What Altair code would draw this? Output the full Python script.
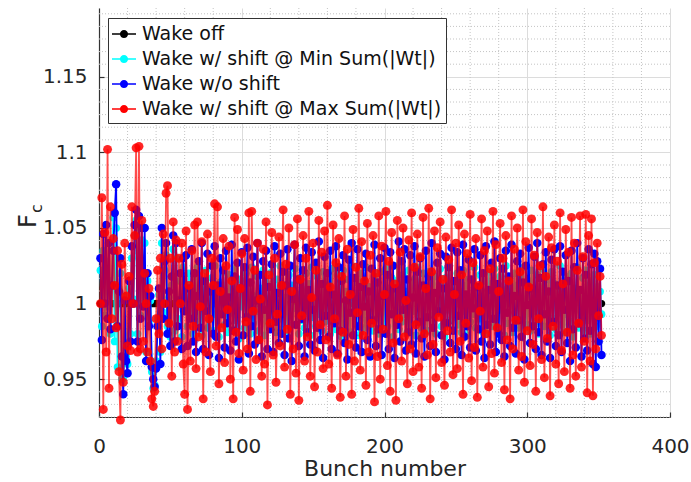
import altair as alt
import pandas as pd

# ---- series definitions -------------------------------------------------
series_names = [
    "Wake off",
    "Wake w/ shift @ Min Sum(|Wt|)",
    "Wake w/o shift",
    "Wake w/ shift @ Max Sum(|Wt|)",
]
series_colors = ["#000000", "#00ffff", "#0000ff", "#ff0000"]

# Fc per bunch, wake with shift at max Sum(|Wt|)
fc_max_shift = [
    1.000, 1.070, 0.930, 1.047, 0.968, 1.102, 0.944, 1.064, 0.990, 1.043,
    1.012, 0.984, 1.035, 0.955, 0.923, 1.026, 0.948, 1.040, 1.005, 0.972,
    1.018, 0.969, 1.064, 1.000, 1.045, 1.103, 0.968, 1.104, 0.970, 1.055,
    0.975, 1.020, 1.000, 0.968, 1.010, 0.962, 0.937, 0.932, 0.942, 0.990,
    1.022, 0.980, 1.030, 0.970, 1.046, 1.000, 1.073, 1.078, 0.987, 1.030,
    0.952, 1.054, 0.968, 1.042, 0.975, 1.030, 1.000, 1.040, 0.960, 0.940,
    1.048, 0.930, 1.012, 0.962, 1.035, 0.985, 1.052, 0.957, 1.054, 0.978,
    0.998, 1.041, 0.937, 1.020, 0.968, 1.046, 0.990, 0.955, 1.030, 1.012,
    1.066, 0.972, 1.064, 0.947, 1.008, 0.984, 1.043, 0.961, 1.025, 0.996,
    1.038, 0.950, 1.015, 0.937, 1.057, 0.981, 1.049, 0.967, 1.010, 1.033,
    0.956, 1.043, 0.988, 0.970, 1.060, 0.942, 1.061, 0.995, 1.022, 0.963,
    1.040, 0.976, 1.003, 0.952, 1.036, 0.960, 1.054, 0.933, 1.019, 0.987,
    1.047, 0.966, 1.030, 0.948, 0.993, 1.044, 0.972, 1.012, 1.062, 0.958,
    1.026, 0.983, 1.050, 0.940, 1.008, 0.970, 1.039, 0.954, 1.056, 0.936,
    1.016, 0.992, 1.045, 0.962, 1.030, 0.978, 1.061, 0.952, 1.004, 1.040,
    0.945, 1.022, 0.968, 1.055, 0.986, 1.034, 0.957, 1.048, 0.976, 1.065,
    0.960, 1.011, 0.944, 1.052, 0.990, 1.027, 0.966, 1.043, 0.938, 1.018,
    0.981, 1.058, 0.952, 1.036, 0.973, 1.006, 0.940, 1.049, 0.962, 1.024,
    0.994, 1.063, 0.956, 1.041, 0.979, 1.015, 0.946, 1.053, 0.968, 1.032,
    0.987, 1.045, 0.935, 1.020, 0.965, 1.058, 0.950, 1.038, 0.983, 1.006,
    1.061, 0.959, 1.028, 0.942, 1.047, 0.974, 1.013, 0.936, 1.055, 0.990,
    1.034, 0.962, 1.050, 0.978, 1.002, 0.947, 1.042, 0.970, 1.060, 0.955,
    1.024, 0.986, 1.046, 0.958, 1.031, 0.944, 1.057, 0.980, 1.010, 0.966,
    1.063, 0.937, 1.021, 0.973, 1.048, 0.951, 1.037, 0.991, 1.054, 0.961,
    1.016, 0.946, 1.044, 0.982, 1.029, 0.968, 1.062, 0.953, 1.006, 1.040,
    0.957, 1.052, 0.975, 1.019, 0.940, 1.046, 0.987, 1.033, 0.964, 1.059,
    0.949, 1.027, 0.971, 1.043, 0.938, 1.012, 0.995, 1.056, 0.958, 1.035,
    0.980, 1.048, 0.945, 1.023, 0.967, 1.061, 0.954, 1.039, 0.984, 1.008,
    1.053, 0.961, 1.030, 0.943, 1.045, 0.976, 1.015, 0.937, 1.058, 0.970,
    1.036, 0.989, 1.050, 0.956, 1.021, 0.965, 1.062, 0.948, 1.041, 0.982,
    1.011, 0.959, 1.056, 0.973, 1.032, 0.942, 1.047, 0.990, 1.025, 0.963,
    1.064, 0.951, 1.018, 0.977, 1.044, 0.939, 1.037, 0.985, 1.052, 0.960,
    1.028, 0.947, 1.060, 0.969, 1.013, 0.955, 1.049, 0.981, 1.034, 0.944,
    1.057, 0.966, 1.040, 0.952, 1.022, 0.987, 1.058, 0.958, 1.031, 0.975,
    1.059, 0.941, 1.045, 0.962, 1.056, 0.939, 1.027, 0.970, 1.040, 0.992,
    1.018, 0.979,
]

# Fc per bunch, wake without shift
fc_no_shift = [
    1.030, 0.976, 1.046, 1.000, 1.052, 0.990, 1.040, 0.983, 1.012, 1.035,
    1.060, 1.079, 0.985, 1.008, 1.030, 0.965, 0.940, 1.002, 0.962, 0.954,
    1.015, 0.975, 1.038, 1.000, 1.052, 1.062, 0.975, 1.058, 0.990, 1.050,
    0.998, 1.050, 0.962, 1.020, 0.985, 1.005, 0.958, 0.950, 0.945, 0.957,
    0.985, 1.010, 0.960, 1.050, 0.990, 1.028, 1.040, 0.980, 1.008, 0.972,
    1.018, 1.045, 0.975, 1.040, 0.985, 1.002, 1.020, 0.970, 1.030, 0.995,
    1.032, 0.972, 1.010, 0.990, 1.036, 0.975, 1.020, 0.968, 1.005, 1.028,
    0.984, 1.040, 0.970, 1.015, 0.995, 1.033, 0.966, 1.008, 1.025, 0.980,
    1.038, 0.978, 1.012, 0.964, 1.030, 0.993, 1.022, 0.971, 1.035, 0.987,
    1.004, 0.969, 1.039, 0.982, 1.018, 0.975, 1.027, 0.963, 1.010, 1.034,
    0.979, 1.024, 0.991, 1.037, 0.967, 1.014, 0.985, 1.031, 0.973, 1.002,
    1.040, 0.976, 1.019, 0.965, 1.028, 0.996, 1.035, 0.970, 1.011, 0.983,
    1.026, 0.968, 1.038, 0.988, 1.007, 0.974, 1.033, 0.980, 1.021, 0.966,
    1.012, 1.036, 0.977, 1.025, 0.962, 1.003, 1.039, 0.986, 1.016, 0.972,
    1.030, 0.990, 1.022, 0.965, 1.037, 0.981, 1.009, 0.973, 1.034, 0.996,
    0.969, 1.027, 0.984, 1.041, 0.976, 1.013, 0.964, 1.031, 0.992, 1.020,
    0.978, 1.035, 0.970, 1.006, 0.987, 1.038, 0.967, 1.024, 0.982, 1.015,
    1.032, 0.974, 1.002, 0.963, 1.029, 0.994, 1.040, 0.979, 1.017, 0.971,
    1.036, 0.985, 1.011, 0.968, 1.026, 0.998, 1.033, 0.976, 1.008, 0.965,
    1.023, 0.989, 1.039, 0.972, 1.014, 0.983, 1.030, 0.966, 1.005, 1.037,
    0.980, 1.019, 0.970, 1.034, 0.993, 1.025, 0.964, 1.010, 0.986, 1.041,
    0.975, 1.028, 0.996, 1.036, 0.969, 1.016, 0.981, 1.032, 0.973, 1.004,
    1.038, 0.967, 1.021, 0.988, 1.030, 0.977, 1.012, 0.965, 1.035, 0.991,
    1.018, 0.972, 1.040, 0.984, 1.007, 0.968, 1.027, 0.995, 1.033, 0.979,
    1.010, 0.963, 1.031, 0.987, 1.024, 0.974, 1.037, 0.982, 1.015, 0.970,
    1.034, 0.992, 1.022, 0.966, 1.039, 0.978, 1.006, 0.985, 1.029, 0.971,
    1.016, 0.997, 1.036, 0.969, 1.011, 0.983, 1.032, 0.975, 1.020, 0.964,
    1.038, 0.986, 1.009, 0.973, 1.027, 0.990, 1.041, 0.968, 1.013, 0.980,
    1.030, 0.976, 1.023, 0.965, 1.035, 0.994, 1.018, 0.972, 1.039, 0.984,
    1.005, 0.967, 1.028, 0.989, 1.033, 0.978, 1.014, 0.963, 1.025, 0.999,
    1.037, 0.974, 1.010, 0.985, 1.031, 0.970, 1.040, 0.981, 1.017, 0.966,
    1.026, 0.993, 1.034, 0.975, 1.008, 0.964, 1.029, 0.988, 1.036, 0.972,
    1.012, 0.979, 1.038, 0.968, 1.021, 0.996, 1.032, 0.974, 1.015, 0.962,
    1.035, 0.983, 1.024, 0.971, 1.040, 0.987, 1.009, 0.965, 1.030, 0.977,
    1.019, 0.969, 1.036, 0.982, 1.026, 0.960, 1.033, 0.958, 1.028, 0.975,
    1.023, 0.966,
]

# Fc per bunch, wake with shift at min Sum(|Wt|)
fc_min_shift = [
    1.022, 0.985, 1.035, 0.992, 1.028, 0.998, 1.040, 0.980, 1.015, 1.057,
    0.975, 1.050, 0.958, 1.010, 1.020, 0.950, 0.951, 1.005, 0.965, 0.960,
    1.010, 0.980, 1.030, 1.003, 1.045, 1.055, 0.980, 1.050, 0.992, 1.042,
    1.000, 1.040, 0.968, 1.015, 0.988, 1.002, 0.955, 0.944, 0.946, 0.962,
    0.990, 1.006, 0.968, 1.040, 0.994, 1.022, 1.032, 0.985, 1.004, 0.978,
    1.012, 1.036, 0.982, 1.030, 0.990, 1.000, 1.015, 0.978, 1.024, 0.996,
    1.012, 0.985, 1.020, 0.992, 1.006, 0.980, 1.018, 0.995, 1.024, 0.988,
    1.003, 0.979, 1.015, 0.997, 1.022, 0.984, 1.009, 0.990, 1.017, 0.982,
    1.025, 0.993, 1.004, 0.978, 1.014, 0.996, 1.021, 0.986, 1.008, 0.981,
    1.019, 0.994, 1.011, 0.983, 1.023, 0.989, 1.002, 0.977, 1.016, 0.998,
    1.007, 0.984, 1.020, 0.991, 1.013, 0.980, 1.024, 0.987, 1.005, 0.995,
    1.018, 0.982, 1.010, 0.993, 1.022, 0.979, 1.014, 0.988, 1.003, 0.985,
    1.021, 0.996, 1.008, 0.981, 1.016, 0.990, 1.025, 0.983, 1.011, 0.994,
    1.004, 0.978, 1.019, 0.992, 1.012, 0.986, 1.023, 0.997, 1.006, 0.980,
    1.017, 0.989, 1.009, 0.984, 1.020, 0.995, 1.013, 0.979, 1.024, 0.991,
    1.002, 0.985, 1.018, 0.993, 1.010, 0.982, 1.021, 0.988, 1.007, 0.996,
    1.015, 0.980, 1.023, 0.990, 1.005, 0.983, 1.019, 0.994, 1.012, 0.978,
    1.022, 0.987, 1.008, 0.992, 1.016, 0.981, 1.025, 0.995, 1.003, 0.986,
    1.014, 0.979, 1.020, 0.993, 1.009, 0.984, 1.024, 0.989, 1.011, 0.997,
    1.006, 0.982, 1.018, 0.990, 1.013, 0.980, 1.021, 0.994, 1.004, 0.987,
    1.023, 0.985, 1.010, 0.996, 1.017, 0.978, 1.015, 0.991, 1.025, 0.983,
    1.002, 0.988, 1.019, 0.993, 1.008, 0.981, 1.022, 0.986, 1.012, 0.995,
    1.016, 0.979, 1.024, 0.990, 1.005, 0.984, 1.020, 0.997, 1.009, 0.982,
    1.021, 0.992, 1.013, 0.987, 1.018, 0.980, 1.006, 0.994, 1.023, 0.985,
    1.011, 0.978, 1.017, 0.996, 1.025, 0.989, 1.003, 0.983, 1.014, 0.991,
    1.020, 0.986, 1.008, 0.981, 1.022, 0.995, 1.012, 0.979, 1.016, 0.988,
    1.004, 0.993, 1.024, 0.984, 1.010, 0.990, 1.019, 0.982, 1.015, 0.997,
    1.007, 0.980, 1.021, 0.992, 1.013, 0.985, 1.023, 0.989, 1.002, 0.983,
    1.018, 0.996, 1.009, 0.979, 1.025, 0.987, 1.014, 0.994, 1.006, 0.981,
    1.020, 0.990, 1.012, 0.984, 1.017, 0.978, 1.024, 0.993, 1.003, 0.986,
    1.015, 0.982, 1.022, 0.995, 1.008, 0.988, 1.019, 0.980, 1.011, 0.992,
    1.023, 0.985, 1.005, 0.997, 1.016, 0.979, 1.021, 0.990, 1.013, 0.983,
    1.009, 0.994, 1.025, 0.986, 1.002, 0.981, 1.018, 0.993, 1.014, 0.988,
    1.020, 0.978, 1.010, 0.996, 1.024, 0.984, 1.007, 0.991, 1.017, 0.982,
    1.022, 0.989, 1.012, 0.980, 1.015, 0.992, 1.019, 0.985, 1.011, 0.994,
    1.008, 0.993,
]

n_bunch = len(fc_max_shift)
assert len(fc_no_shift) == n_bunch and len(fc_min_shift) == n_bunch
bunch = list(range(1, n_bunch + 1))
fc_wake_off = [1.0] * n_bunch  # no wake: every bunch sits at Fc = 1

x_ticks = [0, 100, 200, 300, 400]
y_ticks = [0.95, 1.0, 1.05, 1.1, 1.15]
X_DOMAIN = [0, 400]
Y_DOMAIN = [0.925, 1.1955]
x_minor = [v for v in range(0, 401, 20) if v % 100 != 0]
y_minor = [round(0.95 + k * 0.05 / 6, 5) for k in range(-3, 30) if k % 6 != 0]
y_minor = [v for v in y_minor if Y_DOMAIN[0] <= v <= Y_DOMAIN[1]]

frames = []
for name, vals in zip(series_names, [fc_wake_off, fc_min_shift, fc_no_shift, fc_max_shift]):
    frames.append(pd.DataFrame({"bunch": bunch, "fc": vals, "series": name}))
df = pd.concat(frames, ignore_index=True)

FONT = "DejaVu Sans"
TXT = "#262626"
AXC = "#333333"

x_scale = alt.Scale(domain=X_DOMAIN, nice=False)
y_scale = alt.Scale(domain=Y_DOMAIN, nice=False, zero=False)

# legend glyph: a short line with a filled marker on it (filled shape only)
legend_path = ("M-1,-0.06L1,-0.06L1,0.06L-1,0.06Z"
               "M0.34,0A0.34,0.34,0,1,1,-0.34,0A0.34,0.34,0,1,1,0.34,0Z")
color = alt.Color(
    "series:N",
    scale=alt.Scale(domain=series_names, range=series_colors),
    legend=alt.Legend(
        title=None, orient="none", legendX=9, legendY=10,
        symbolType=legend_path, symbolSize=576, symbolStrokeWidth=0,
        symbolOpacity=1, labelFont=FONT, labelFontSize=19, labelColor="#111111",
        labelLimit=500, labelOffset=6, padding=4, rowPadding=3,
        strokeColor=AXC, fillColor="white",
    ),
)

# main axes: labels, solid major grid and the axis lines
x_axis = alt.Axis(
    values=x_ticks, orient="bottom", title="Bunch number", grid=True,
    gridColor="#dcdcdc", gridWidth=1, domainColor=AXC, domainWidth=1.2,
    ticks=False, labelFlush=False, labelPadding=19, labelFont=FONT,
    labelFontSize=20, labelColor=TXT, titleFont=FONT, titleFontSize=22,
    titleColor=TXT, titleFontWeight="normal", titlePadding=2,
)
y_axis = alt.Axis(
    values=y_ticks, orient="left", title=None, format=".3~g", grid=True,
    gridColor="#dcdcdc", gridWidth=1, domainColor=AXC, domainWidth=1.2,
    ticks=False, labelFlush=False, labelPadding=12, labelFont=FONT,
    labelFontSize=20, labelColor=TXT,
)

# tick-only axes shifted into the plot so the ticks point inward
x_tick_axis = alt.Axis(
    values=x_ticks, orient="bottom", offset=-5, labels=False, domain=False,
    grid=False, title=None, ticks=True, tickSize=5, tickColor=AXC, tickWidth=1.2,
)
y_tick_axis = alt.Axis(
    values=y_ticks, orient="left", offset=-5, labels=False, domain=False,
    grid=False, title=None, ticks=True, tickSize=5, tickColor=AXC, tickWidth=1.2,
)

base = alt.Chart(df)

tick_layer = base.mark_point(opacity=0).encode(
    x=alt.X("bunch:Q", scale=x_scale, axis=x_tick_axis),
    y=alt.Y("fc:Q", scale=y_scale, axis=y_tick_axis),
)

# dotted minor grid
minor_x = alt.Chart(pd.DataFrame({"v": x_minor})).mark_rule(
    color="#c4c4c4", strokeDash=[1, 2], strokeWidth=1
).encode(x=alt.X("v:Q", scale=x_scale, axis=None))
minor_y = alt.Chart(pd.DataFrame({"v": y_minor})).mark_rule(
    color="#c4c4c4", strokeDash=[1, 2], strokeWidth=1
).encode(y=alt.Y("v:Q", scale=y_scale, axis=None))

styles = {
    "Wake off": dict(line_op=1.0, pt_op=1.0, size=55),
    "Wake w/ shift @ Min Sum(|Wt|)": dict(line_op=1.0, pt_op=1.0, size=60),
    "Wake w/o shift": dict(line_op=1.0, pt_op=1.0, size=72),
    "Wake w/ shift @ Max Sum(|Wt|)": dict(line_op=0.7, pt_op=0.85, size=80),
}

layers = []
for name in series_names:
    st = styles[name]
    src = base.transform_filter(alt.datum.series == name)
    enc = dict(
        x=alt.X("bunch:Q", scale=x_scale, axis=x_axis),
        y=alt.Y("fc:Q", scale=y_scale, axis=y_axis),
        color=color,
    )
    layers.append(src.mark_line(strokeWidth=1.8, opacity=st["line_op"]).encode(**enc))
    layers.append(src.mark_circle(size=st["size"], opacity=st["pt_op"]).encode(**enc))

main = alt.layer(*layers)

# y-axis label F with subscript c
f_text = alt.Chart(pd.DataFrame({"t": ["F"]})).mark_text(
    font=FONT, fontSize=24, angle=270, align="left", baseline="alphabetic", color=TXT
).encode(x=alt.value(-63), y=alt.value(220), text="t:N")
c_text = alt.Chart(pd.DataFrame({"t": ["c"]})).mark_text(
    font=FONT, fontSize=16, angle=270, align="left", baseline="alphabetic", color=TXT
).encode(x=alt.value(-57), y=alt.value(205), text="t:N")

chart = (
    alt.layer(minor_x, minor_y, tick_layer, main, f_text, c_text)
    .resolve_axis(x="independent", y="independent")
    .properties(
        width=571, height=409,
        autosize=alt.AutoSizeParams(type="none"),
        padding={"left": 99, "top": 8, "right": 21, "bottom": 65},
        background="white",
    )
    .configure_view(stroke=None)
)

chart.save("out.html", embed_options={"renderer": "svg", "actions": False})
